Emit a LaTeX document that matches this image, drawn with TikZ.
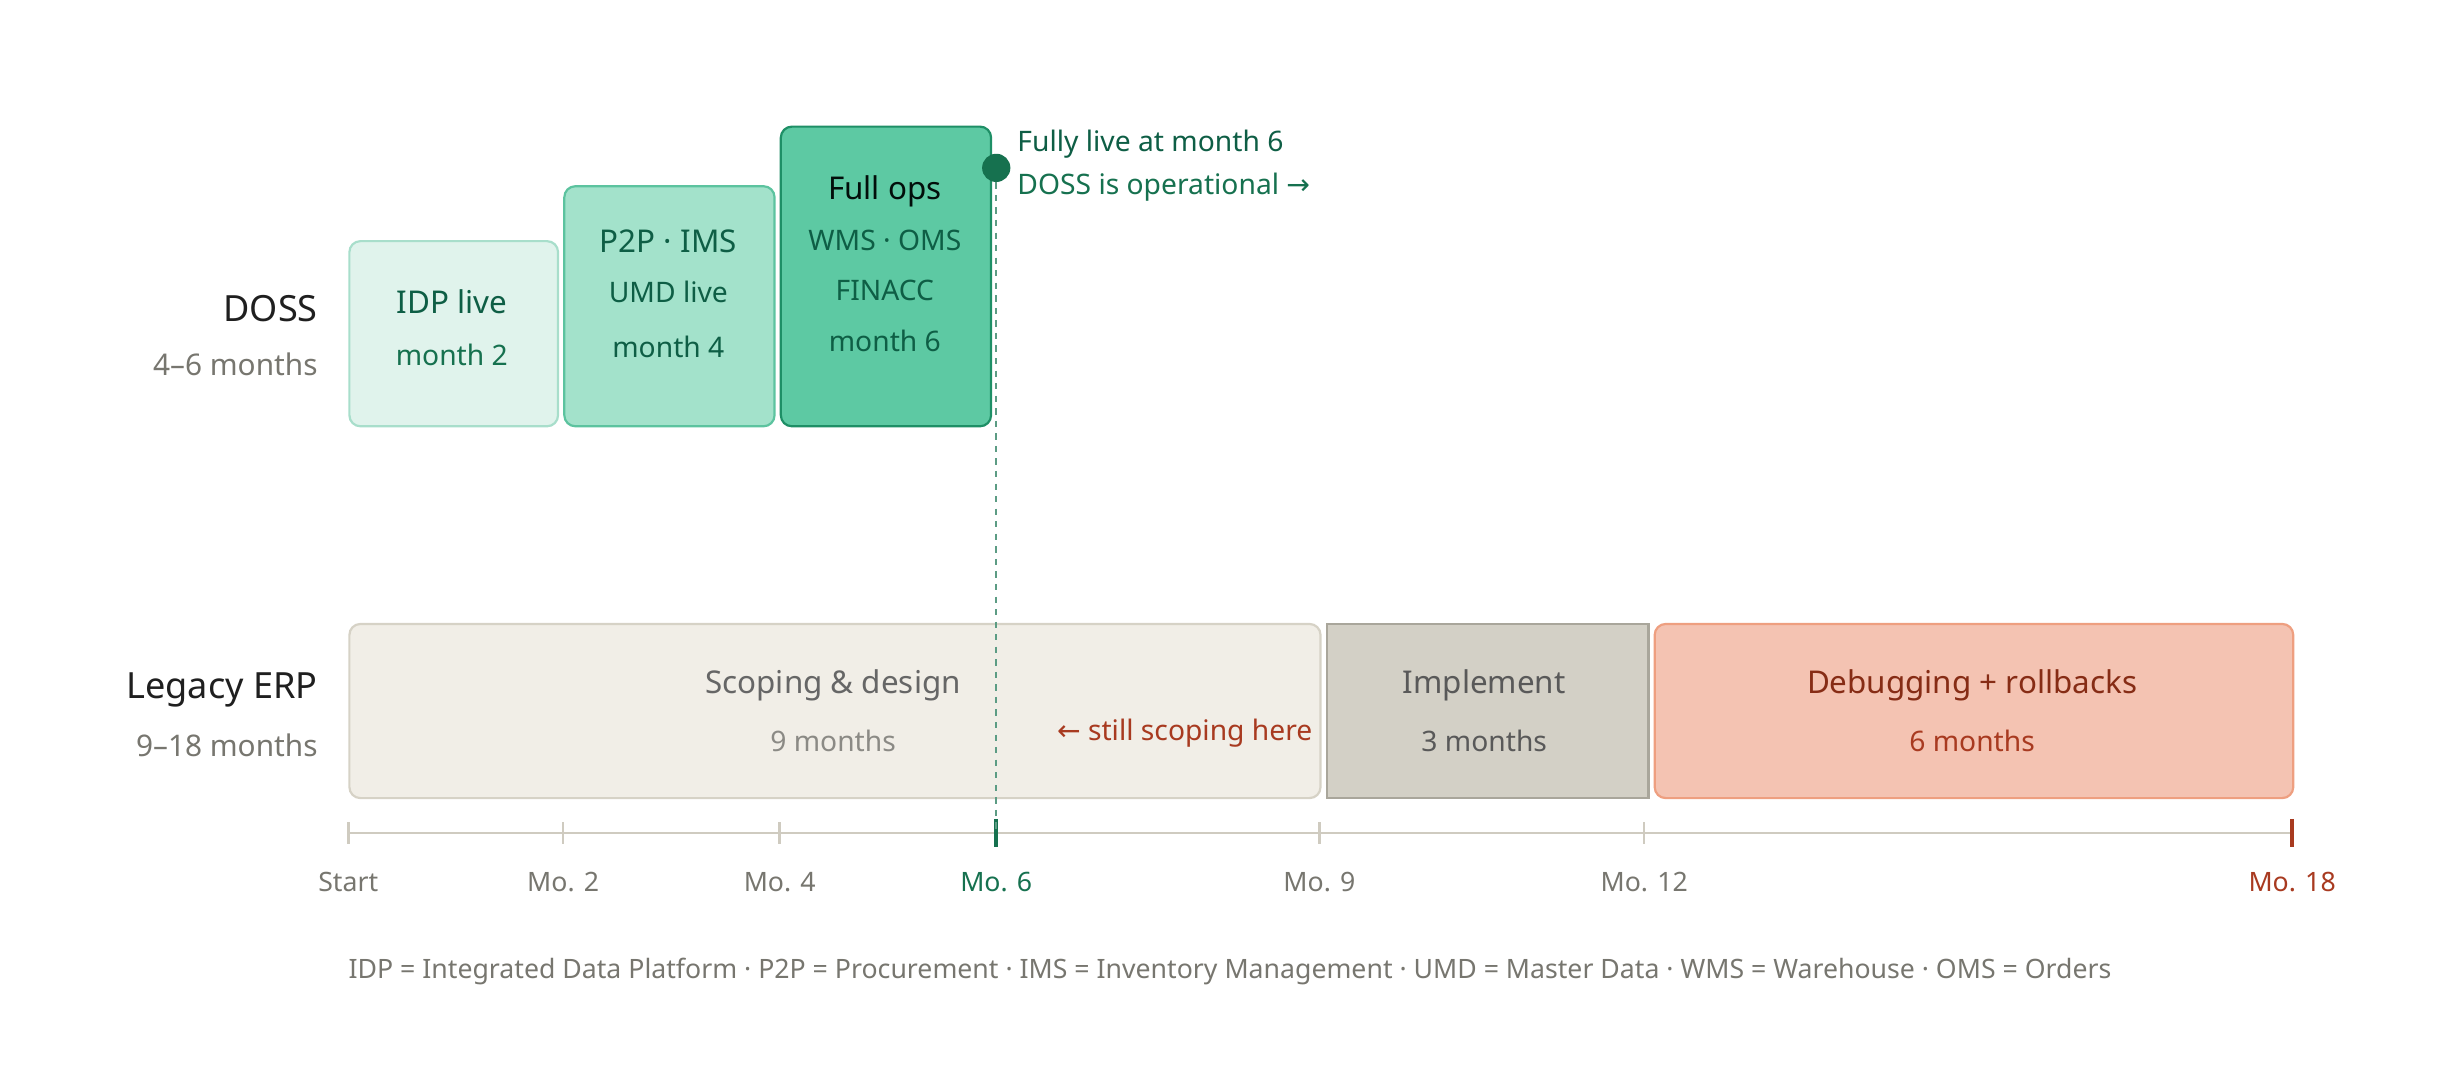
\documentclass[tikz,border=0pt]{standalone}
\usepackage{fontspec}
\setmainfont{Noto Sans}
\newfontfamily\arrowfont{DejaVu Sans}
\usetikzlibrary{positioning}
\definecolor{dgreen}{HTML}{0E5E45}
\definecolor{mgreen}{HTML}{16714F}
\definecolor{redtxt}{HTML}{A83A20}
\definecolor{dred}{HTML}{862C15}
\definecolor{graytxt}{HTML}{77766F}
\definecolor{axisc}{HTML}{CFCBC0}
\definecolor{idpfill}{HTML}{E0F3EC}\definecolor{idpline}{HTML}{A8DECB}
\definecolor{ppfill}{HTML}{A3E2CB}\definecolor{ppline}{HTML}{5CC39F}
\definecolor{opsfill}{HTML}{5DC9A3}\definecolor{opsline}{HTML}{1E8F66}
\definecolor{scfill}{HTML}{F1EEE7}\definecolor{scline}{HTML}{D6D2C6}
\definecolor{imfill}{HTML}{D3D0C6}\definecolor{imline}{HTML}{A9A69B}
\definecolor{dbfill}{HTML}{F4C3B2}\definecolor{dbline}{HTML}{EE9F80}
\tikzset{
  phase/.style={draw,rounded corners=7pt,line width=1.4pt,inner sep=0pt,anchor=north west,align=center},
  lane/.style={anchor=east,align=right,font=\fontsize{23}{25}\selectfont\bfseries,text=black!88},
  lanesub/.style={anchor=east,font=\fontsize{19}{21}\selectfont,text=graytxt},
  tick/.style={draw=axisc,line width=1.6pt},
  ticklabel/.style={font=\fontsize{17}{19}\selectfont,text=graytxt},
  boxhead/.style={font=\fontsize{20}{22}\selectfont\bfseries},
  boxtext/.style={font=\fontsize{18}{20}\selectfont},
}
\begin{document}
\begin{tikzpicture}[x=1pt,y=-1pt]
\useasboundingbox (0,0) rectangle (1568,689);
% lane labels
\node[lane] (doss) at (206,197) {DOSS};
\node[lanesub] (dossm) at (206,232) {4–6 months};
\node[lane] (erp) at (206,440) {Legacy ERP};
\node[lanesub] (erpm) at (206,475) {9–18 months};
% DOSS phases
\node[phase,fill=idpfill,draw=idpline,minimum width=133pt,minimum height=118pt] (idp) at (222,153) {};
\node[phase,fill=ppfill,draw=ppline,minimum width=134pt,minimum height=153pt] (p2p) at (359,118) {};
\node[phase,fill=opsfill,draw=opsline,minimum width=134pt,minimum height=191pt] (ops) at (497,80) {};
\node[boxhead,text=dgreen] at (288,192) {IDP live};
\node[boxtext,text=mgreen] at (288,226) {month 2};
\node[boxhead,text=dgreen] at (426,154) {P2P · IMS};
\node[boxtext,text=dgreen] at (426,186) {UMD live};
\node[boxtext,text=dgreen] at (426,221) {month 4};
\node[boxhead,text=black!85!dgreen] at (564,122) {Full ops};
\node[boxtext,text=dgreen] at (564,153) {WMS · OMS};
\node[boxtext,text=dgreen] at (564,185) {FINACC};
\node[boxhead,text=dgreen,font=\fontsize{18}{20}\selectfont\bfseries] at (564,217) {month 6};
% milestone
\node[circle,fill=mgreen,minimum size=18pt,inner sep=0pt] (live) at (635,107) {};
\node[anchor=west,boxhead,text=dgreen,font=\fontsize{18}{20}\selectfont\bfseries] (livet) at (645,92) {Fully live at month 6};
\node[anchor=west,boxtext,text=mgreen] (lives) at (645,119) {DOSS is operational {\arrowfont →}};
% legacy phases
\node[phase,fill=scfill,draw=scline,minimum width=619pt,minimum height=111pt] (scope) at (222,397) {};
\node[phase,fill=imfill,draw=imline,rounded corners=0pt,minimum width=205pt,minimum height=111pt] (impl) at (845,397) {};
\node[phase,fill=dbfill,draw=dbline,minimum width=407pt,minimum height=111pt] (debug) at (1054,397) {};
\node[boxhead,text=black!60] at (531,437) {Scoping \& design};
\node[boxtext,text=graytxt!85] at (531,472) {9 months};
\node[boxtext,text=redtxt,anchor=east] at (840,467) {{\arrowfont ←} still scoping here};
\node[boxhead,text=black!65] at (946,437) {Implement};
\node[boxtext,text=black!65] at (946,472) {3 months};
\node[boxhead,text=dred] at (1257,437) {Debugging + rollbacks};
\node[boxtext,text=redtxt] at (1257,472) {6 months};
% axis
\coordinate (a0) at (222,531);
\coordinate (a18) at (1461,531);
\draw[tick] (a0) -- (a18);
\foreach \x/\lab in {222/Start,359/Mo. 2,497/Mo. 4,841/Mo. 9,1048/Mo. 12}{
  \draw[tick] (\x,524) -- (\x,538);
  \node[ticklabel] at (\x,562) {\lab};
}
\coordinate (a6) at (635,531);
\draw[mgreen,line width=2.4pt] (635,522) -- (635,540);
\node[ticklabel,text=mgreen,font=\fontsize{17}{19}\selectfont\bfseries] at (635,562) {Mo. 6};
\draw[redtxt,line width=2.4pt] (1461,522) -- (1461,540);
\node[ticklabel,text=redtxt,font=\fontsize{17}{19}\selectfont\bfseries] at (1461,562) {Mo. 18};
\draw[mgreen!70,line width=1.3pt,dash pattern=on 4pt off 4pt] (live) -- (a6);
% footnote
\node[ticklabel,anchor=west,inner sep=0pt] (foot) at (222,619) {IDP = Integrated Data Platform · P2P = Procurement · IMS = Inventory Management · UMD = Master Data · WMS = Warehouse · OMS = Orders};
\end{tikzpicture}
\end{document}
